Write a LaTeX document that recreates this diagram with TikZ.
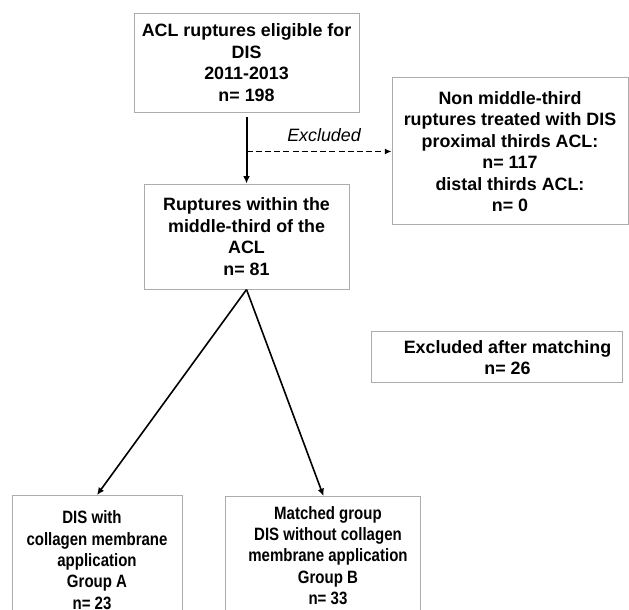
\documentclass[tikz,border=0pt]{standalone}
\usepackage{fontspec}
\setmainfont{Liberation Sans}
\newfontfamily\narrowsans{Liberation Sans}[FakeStretch=0.84]
\usetikzlibrary{arrows.meta, positioning}

\begin{document}
\begin{tikzpicture}[
  box/.style={rectangle, draw=gray!65, line width=0.75pt, inner sep=0pt,
              align=center, font=\bfseries\fontsize{13.4}{16.1}\selectfont},
  grp/.style={box, anchor=north, font=\narrowsans\bfseries\fontsize{13.4}{16}\selectfont},
  arrow/.style={-{Latex[length=5.5pt,width=5pt]}, line width=1.5pt},
  skip/.style={-{Latex[length=5pt,width=4.5pt]}, line width=1.1pt,
               dash pattern=on 4.5pt off 2.4pt},
]
\useasboundingbox (0,0) rectangle (471.75pt,-457.5pt);
\clip (0,0) rectangle (471.75pt,-457.5pt);
\node[box, minimum width=168.75pt, minimum height=74.25pt] (acl) at (184.9pt,-46.9pt)
      {ACL ruptures eligible for\\ DIS\\ 2011-2013\\ n= 198};
\node[box, minimum width=153.75pt, minimum height=78.75pt, below=53.25pt of acl] (mid)
      {Ruptures within the\\ middle-third of the\\ ACL\\ n= 81};
\node[box, minimum width=177pt, minimum height=110.25pt] (excl) at (382.5pt,-113.6pt)
      {Non middle-third\\ ruptures treated with DIS\\ proximal thirds ACL:\\ n= 117\\
       distal thirds ACL:\\ n= 0};
\node[box, minimum width=188.25pt, minimum height=38.25pt] (match) at (372.4pt,-268.1pt)
      {\hspace*{16.5pt}Excluded after matching\\ \hspace*{16.5pt}n= 26};
\node[grp, minimum width=127.5pt, minimum height=96.75pt] (grpA) at (72.75pt,-371.25pt)
      {DIS with\hspace*{7.5pt}\\ collagen membrane\hspace*{7.5pt}\\ application\hspace*{7.5pt}\\
       Group A\hspace*{7.5pt}\\ n= 23\hspace*{7.5pt}};
\node[grp, minimum width=146.25pt, minimum height=88.5pt] (grpB) at (242.6pt,-372pt)
      {\hspace*{6.75pt}Matched group\\ \hspace*{6.75pt}DIS without collagen\\
       \hspace*{6.75pt}membrane application\\ \hspace*{6.75pt}Group B\\ \hspace*{6.75pt}n= 33};
\coordinate (split) at (acl.south |- excl.west);
\draw[arrow, shorten <=3pt] (acl.south) -- (acl.south |- mid.north);
\draw[skip] (split) -- (excl.west)
      node[midway, anchor=base, yshift=7.5pt, xshift=3.75pt,
           font=\itshape\fontsize{13.4}{16}\selectfont] {Excluded};
\draw[arrow, line width=1.2pt] (mid.south) -- (grpA.north);
\draw[arrow, line width=1.2pt] (mid.south) -- (grpB.north);
\end{tikzpicture}
\end{document}
